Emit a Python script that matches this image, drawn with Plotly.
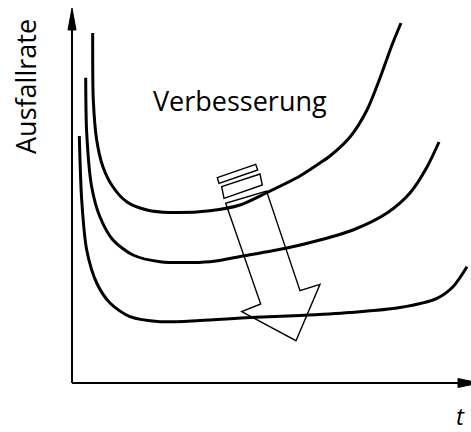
import plotly.graph_objects as go

# Data in axis units (origin = intersection of the two axes)
# Curve 1 (oldest, highest failure rate)
c1_t = [20.7, 21.3, 24.7, 31, 41, 55, 75, 98, 138, 168, 194, 228, 248, 258, 278, 295, 308, 320, 329]
c1_r = [350, 283, 243, 216, 196, 181, 173, 170.5, 172.3, 178, 190, 207, 220, 227, 246, 273, 305, 338, 360]
# Curve 2
c2_t = [13.7, 14.7, 19.7, 28, 41, 61, 88, 138, 171, 215, 248, 281, 315, 338, 355, 367]
c2_r = [305.3, 250, 196, 166, 143, 128, 121.3, 121.3, 127, 135, 143, 153, 170, 190, 216, 241]
# Curve 3 (improved)
c3_t = [7.3, 9.7, 14.7, 24.7, 38, 58, 88, 128, 178, 228, 278, 328, 365, 381, 395]
c3_r = [247, 183, 133, 100, 80, 66.3, 61.3, 62.5, 65.5, 67.5, 70.5, 75.5, 84.7, 96.3, 116.3]

curves = [(c1_t, c1_r), (c2_t, c2_r), (c3_t, c3_r)]

# Decorative "improvement" arrow outline (axis units)
arrow_x = [153.7, 188.7, 169.7, 224, 248, 228, 194.5]
arrow_y = [179.7, 79, 71.3, 42.3, 98.7, 92.3, 192]
bar1_x = [145.3, 183.7, 185.7, 147]
bar1_y = [205.3, 218.7, 213, 199.7]
bar2_x = [149.7, 188, 190.3, 152]
bar2_y = [196.3, 209, 198, 184.7]

X_RANGE = [-72, 399]
Y_RANGE = [-49, 383]

fig = go.Figure()
for t, r in curves:
    fig.add_trace(go.Scatter(x=t, y=r, mode="lines",
                             line=dict(color="black", width=3, shape="spline", smoothing=0.8),
                             hoverinfo="skip", showlegend=False))


def poly(xs, ys):
    return "M " + " L ".join(f"{x},{y}" for x, y in zip(xs, ys)) + " Z"


shapes = [
    # axes
    dict(type="line", xref="x", yref="y", x0=0, y0=0, x1=0, y1=355,
         line=dict(color="black", width=2)),
    dict(type="line", xref="x", yref="y", x0=0, y0=0, x1=388, y1=0,
         line=dict(color="black", width=2)),
    dict(type="path", xref="x", yref="y", path=poly([0, -4, 4], [375, 353, 353]),
         fillcolor="black", line=dict(color="black", width=1)),
    dict(type="path", xref="x", yref="y", path=poly([407, 386, 386], [0, -4.5, 4.5]),
         fillcolor="black", line=dict(color="black", width=1)),
    # arrow
    dict(type="path", xref="x", yref="y", path=poly(arrow_x, arrow_y),
         line=dict(color="black", width=1.4)),
    dict(type="path", xref="x", yref="y", path=poly(bar1_x, bar1_y),
         line=dict(color="black", width=1.4)),
    dict(type="path", xref="x", yref="y", path=poly(bar2_x, bar2_y),
         line=dict(color="black", width=1.4)),
]

annotations = [
    dict(text="Verbesserung", x=168, y=283, xref="x", yref="y", showarrow=False,
         font=dict(family="Open Sans", size=27, color="black")),
    dict(text="Ausfallrate", x=-47, y=296, xref="x", yref="y", showarrow=False,
         textangle=-90, font=dict(family="Open Sans", size=27, color="black")),
    dict(text="<i>t</i>", x=395, y=-32, xref="x", yref="y", showarrow=False,
         xanchor="right", font=dict(family="Open Sans", size=24, color="black")),
]

fig.update_layout(
    width=471, height=432,
    margin=dict(l=0, r=0, t=0, b=0),
    paper_bgcolor="white", plot_bgcolor="white",
    xaxis=dict(range=X_RANGE, visible=False, fixedrange=True),
    yaxis=dict(range=Y_RANGE, visible=False, fixedrange=True),
    shapes=shapes, annotations=annotations,
)

fig.write_html("out.html", config={"displayModeBar": False},
               post_script="document.body.style.margin='0';document.body.style.overflow='hidden';")
